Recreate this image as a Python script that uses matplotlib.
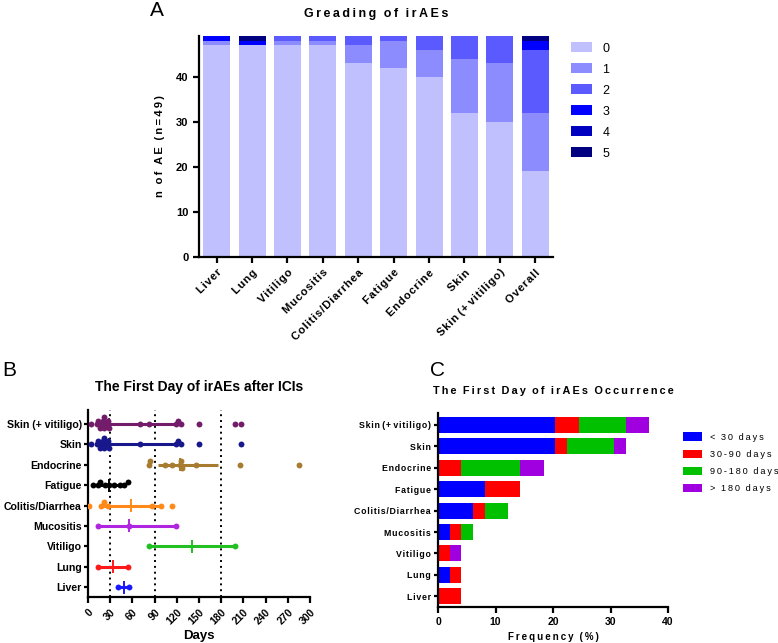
import matplotlib
matplotlib.use("Agg")
import matplotlib.pyplot as plt
import numpy as np

plt.rcParams['font.family'] = ['Liberation Sans', 'DejaVu Sans']

# ---------------- Panel A data ----------------
a_categories = ["Liver", "Lung", "Vitiligo", "Mucositis", "Colitis/Diarrhea",
                "Fatigue", "Endocrine", "Skin", "Skin (+ vitiligo)", "Overall"]
a_grades = ["0", "1", "2", "3", "4", "5"]
grade0 = [47, 47, 47, 47, 43, 42, 40, 32, 30, 19]
grade1 = [1, 0, 1, 1, 4, 6, 6, 12, 13, 13]
grade2 = [0, 0, 1, 1, 2, 1, 3, 5, 6, 14]
grade3 = [1, 1, 0, 0, 0, 0, 0, 0, 0, 2]
grade4 = [0, 0, 0, 0, 0, 0, 0, 0, 0, 0]
grade5 = [0, 1, 0, 0, 0, 0, 0, 0, 0, 1]
a_yticks = [0, 10, 20, 30, 40]

# ---------------- Panel B data ----------------
b_categories = ["Liver", "Lung", "Vitiligo", "Mucositis", "Colitis/Diarrhea",
                "Fatigue", "Endocrine", "Skin", "Skin (+ vitiligo)"]
days_liver = [40, 56]
days_lung = [13, 54]
days_vitiligo = [82, 199]
days_mucositis = [13, 56, 119]
days_colitis = [2, 18, 21, 27, 87, 99, 113]
days_fatigue = [7, 13, 16, 23, 29, 35, 43, 49, 54]
days_endocrine = [83, 84, 104, 114, 124, 126, 127, 146, 205, 285]
days_skin = [4, 12, 14, 16, 18, 20, 21, 22, 24, 27, 28, 70, 119, 122, 125, 150, 207]
days_skinv = [4, 12, 14, 16, 18, 20, 21, 22, 24, 27, 28, 70, 82, 119, 122, 125, 150, 199, 207]
b_center = [48, 34, 140, 56, 58, 29, 124, 28, 28]
b_low = [40, 13, 82, 13, 16, 13, 95, 12, 12]
b_high = [56, 54, 199, 119, 100, 48, 176, 122, 124]
b_xticks = [0, 30, 60, 90, 120, 150, 180, 210, 240, 270, 300]
b_ref_days = [30, 90, 180]

# ---------------- Panel C data ----------------
c_categories = ["Liver", "Lung", "Vitiligo", "Mucositis", "Colitis/Diarrhea",
                "Fatigue", "Endocrine", "Skin", "Skin (+ vitiligo)"]
c_series = ["< 30 days", "30-90 days", "90-180 days", "> 180 days"]
lt30 = [0, 2.04, 0, 2.04, 6.12, 8.16, 0, 20.41, 20.41]
d30_90 = [4.08, 2.04, 2.04, 2.04, 2.04, 6.12, 4.08, 2.04, 4.08]
d90_180 = [0, 0, 0, 2.04, 4.08, 0, 10.2, 8.16, 8.16]
gt180 = [0, 0, 2.04, 0, 0, 0, 4.08, 2.04, 4.08]
c_xticks = [0, 10, 20, 30, 40]

THIN = "\u2009"
HAIR = "\u200a"


def sp(s, gap=THIN, wordgap=None):
    """letter-spaced text"""
    if wordgap is None:
        wordgap = gap * 3
    out = []
    for w in s.split(" "):
        out.append(gap.join(list(w)))
    return wordgap.join(out)


fig = plt.figure(figsize=(7.78, 6.43), dpi=100)
W, H = 778, 643


def add_ax(l, r, t, b):
    return fig.add_axes([l / W, 1 - b / H, (r - l) / W, (b - t) / H])


def style_spines(ax, lw=1.6):
    for s in ["top", "right"]:
        ax.spines[s].set_visible(False)
    for s in ["left", "bottom"]:
        ax.spines[s].set_linewidth(lw)
    ax.tick_params(width=lw, length=4)


# ---------------- Panel A ----------------
axA = add_ax(199, 553, 36, 257)
a_colors = ["#c0c0ff", "#8c8cff", "#5a5aff", "#0000ff", "#0000c0", "#000080"]
a_data = [grade0, grade1, grade2, grade3, grade4, grade5]
x = np.arange(len(a_categories))
bottom = np.zeros(len(a_categories))
for g, vals, col in zip(a_grades, a_data, a_colors):
    axA.bar(x, vals, 0.76, bottom=bottom, color=col, label=g, linewidth=0)
    bottom += np.array(vals)
axA.set_xlim(-0.5, len(a_categories) - 0.5)
axA.set_ylim(0, 49)
axA.set_yticks(a_yticks)
axA.set_yticklabels([str(v) for v in a_yticks], fontsize=8, fontweight="bold")
axA.set_xticks(x)
axA.set_xticklabels([sp(c, HAIR, " ") for c in a_categories], rotation=45, ha="right",
                    rotation_mode="anchor", fontsize=8, fontweight="bold")
style_spines(axA)
axA.set_ylabel(sp("n of AE (n=49)"), fontsize=8, fontweight="bold", labelpad=8)
axA.set_title(sp("Greading of irAEs"), fontsize=9, fontweight="bold", pad=14)
axA.legend(loc="upper left", bbox_to_anchor=(1.037, 0.995), frameon=False,
           borderaxespad=0, fontsize=9, handlelength=1.7, handleheight=0.9,
           labelspacing=0.68, handletextpad=0.8)
fig.text(150 / W, 1 - 11 / H, "A", fontsize=15, va="center", ha="left")

# ---------------- Panel B ----------------
axB = add_ax(88, 310, 410, 597)
b_colors = ["#1a1aff", "#ff1a1a", "#22c022", "#b026e0", "#ff8a1a",
            "#000000", "#a87c30", "#18188c", "#731c6a"]
b_days = [days_liver, days_lung, days_vitiligo, days_mucositis, days_colitis,
          days_fatigue, days_endocrine, days_skin, days_skinv]
for d in b_ref_days:
    axB.axvline(d, color="black", linestyle=(0, (1, 2)), linewidth=1.4, zorder=1)
for i, (vals, col) in enumerate(zip(b_days, b_colors)):
    vals = np.array(vals, dtype=float)
    # simple swarm offsets
    offs = np.zeros(len(vals))
    placed = []
    for k, v in enumerate(vals):
        near = [o for (pv, o) in placed if abs(pv - v) < 5.5]
        cand = [0, 0.17, -0.17, 0.34, -0.34]
        for c in cand:
            if c not in near:
                offs[k] = c
                break
        placed.append((v, offs[k]))
    axB.hlines(i, b_low[i], b_high[i], color=col, linewidth=2.2, zorder=2)
    axB.vlines(b_center[i], i - 0.32, i + 0.32, color=col, linewidth=1.4, zorder=2)
    axB.scatter(vals, i + offs, s=18, color=col, zorder=3, linewidths=0)
axB.set_xlim(0, 300)
axB.set_ylim(-0.49, 8.69)
axB.set_yticks(range(len(b_categories)))
axB.set_yticklabels(b_categories, fontsize=7.6, fontweight="bold")
axB.set_xticks(b_xticks)
axB.set_xticklabels([str(v) for v in b_xticks], rotation=45, ha="right",
                    rotation_mode="anchor", fontsize=7.5, fontweight="bold")
style_spines(axB)
axB.tick_params(axis="y", length=3, pad=1.5)
axB.set_xlabel("Days", fontsize=9.5, fontweight="bold", labelpad=2)
axB.set_title("The First Day of irAEs after ICIs", fontsize=10, fontweight="bold", pad=14)
fig.text(2 / W, 1 - 370 / H, "B", fontsize=15, va="center", ha="left")

# ---------------- Panel C ----------------
axC = add_ax(438, 668, 413, 607)
c_colors = ["#0000ff", "#ff0000", "#00c000", "#a000e0"]
c_data = [lt30, d30_90, d90_180, gt180]
y = np.arange(len(c_categories))
left = np.zeros(len(c_categories))
for name, vals, col in zip(c_series, c_data, c_colors):
    axC.barh(y, vals, 0.75, left=left, color=col, label=sp(name), linewidth=0)
    left += np.array(vals)
axC.set_xlim(0, 40)
axC.set_ylim(-0.5, 8.56)
axC.set_yticks(y)
axC.set_yticklabels([sp(c, HAIR, " ") for c in c_categories], fontsize=6.3, fontweight="bold")
axC.set_xticks(c_xticks)
axC.set_xticklabels([str(v) for v in c_xticks], fontsize=7.5, fontweight="bold")
style_spines(axC)
axC.tick_params(axis="y", length=3, pad=2)
axC.set_xlabel(sp("Frequency (%)"), fontsize=7, fontweight="bold", labelpad=3)
axC.set_title(sp("The First Day of irAEs Occurrence"), fontsize=7.8, fontweight="bold", pad=14)
axC.legend(loc="upper left", bbox_to_anchor=(1.048, 0.919), frameon=False,
           borderaxespad=0, fontsize=6.6, handlelength=2.1, handleheight=1.05,
           labelspacing=0.85, handletextpad=0.85)
fig.text(430 / W, 1 - 370 / H, "C", fontsize=15, va="center", ha="left")

fig.savefig("out.png", dpi=100)
